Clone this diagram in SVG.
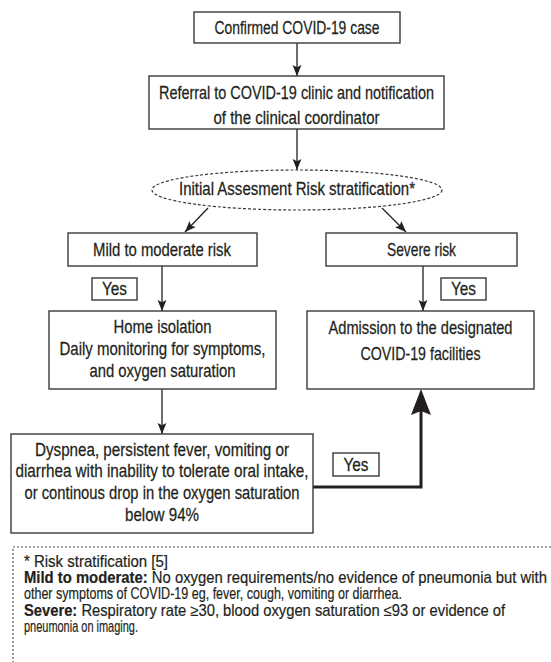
<svg xmlns="http://www.w3.org/2000/svg" width="551" height="662" viewBox="0 0 551 662">
<style>
.box{fill:#fff;stroke:#3a3a3a;stroke-width:1.4}
.t{font-family:"Liberation Sans Narrow","Liberation Sans",Arial,sans-serif;font-size:17.5px;fill:#231f20;stroke:#231f20;stroke-width:0.25;text-anchor:middle}
.f{font-family:"Liberation Sans Narrow","Liberation Sans",Arial,sans-serif;font-size:16px;fill:#231f20;stroke:#231f20;stroke-width:0.2}
.b{font-weight:bold}
.ln{stroke:#231f20;stroke-width:1.3;fill:none}
</style>
<defs>
<marker id="ah" markerUnits="userSpaceOnUse" markerWidth="11" markerHeight="11" viewBox="0 0 11 10" refX="11" refY="5" orient="auto">
<path d="M0,0.6 L11,5 L0,9.4 L2.2,5 Z" fill="#231f20"/>
</marker>
</defs>
<rect width="551" height="662" fill="#fff"/>
<g id="connectors">
<line class="ln" x1="297" y1="43" x2="297" y2="76" marker-end="url(#ah)"/>
<line class="ln" x1="297" y1="129" x2="297" y2="170" marker-end="url(#ah)"/>
<line class="ln" x1="208" y1="208" x2="185" y2="232" marker-end="url(#ah)"/>
<line class="ln" x1="382" y1="208" x2="406" y2="232" marker-end="url(#ah)"/>
<line class="ln" x1="162" y1="266" x2="162" y2="311" marker-end="url(#ah)"/>
<line class="ln" x1="423" y1="266" x2="423" y2="311" marker-end="url(#ah)"/>
<line class="ln" x1="162" y1="389" x2="162" y2="434" marker-end="url(#ah)"/>
<polyline points="313,487 421,487 421,410" fill="none" stroke="#231f20" stroke-width="3"/>
<path d="M421,389 L431,415 L421,411 L411,415 Z" fill="#231f20"/>
</g>
<g id="n1">
<rect class="box" x="194" y="12" width="206" height="31"/>
<g transform="scale(0.8,1)">
<text class="t" x="371.25" y="34" textLength="206.25" lengthAdjust="spacingAndGlyphs">Confirmed COVID-19 case</text>
</g>
</g>
<g id="n2">
<rect class="box" x="149" y="76" width="295" height="53"/>
<g transform="scale(0.8,1)">
<text class="t" x="370.625" y="99" textLength="343.75" lengthAdjust="spacingAndGlyphs">Referral to COVID-19 clinic and notification</text>
<text class="t" x="370.625" y="124" textLength="207.5" lengthAdjust="spacingAndGlyphs">of the clinical coordinator</text>
</g>
</g>
<g id="n3">
<ellipse cx="297" cy="190" rx="145" ry="20" fill="#fff" stroke="#3a3a3a" stroke-width="1.2" stroke-dasharray="3 2"/>
<g transform="scale(0.8,1)">
<text class="t" x="371.25" y="195" textLength="295" lengthAdjust="spacingAndGlyphs">Initial Assesment Risk stratification*</text>
</g>
</g>
<g id="n4">
<rect class="box" x="68" y="233" width="189" height="33"/>
<g transform="scale(0.8,1)">
<text class="t" x="202.5" y="256" textLength="172.5" lengthAdjust="spacingAndGlyphs">Mild to moderate risk</text>
</g>
</g>
<g id="n5">
<rect class="box" x="326" y="233" width="191" height="33"/>
<g transform="scale(0.8,1)">
<text class="t" x="526.875" y="256" textLength="86.25" lengthAdjust="spacingAndGlyphs">Severe risk</text>
</g>
</g>
<g id="yes1">
<rect class="box" x="92" y="278" width="45" height="22"/>
<g transform="scale(0.8,1)">
<text class="t" x="143.125" y="295" textLength="31.25" lengthAdjust="spacingAndGlyphs">Yes</text>
</g>
</g>
<g id="yes2">
<rect class="box" x="441" y="278" width="45" height="22"/>
<g transform="scale(0.8,1)">
<text class="t" x="579.375" y="295" textLength="31.25" lengthAdjust="spacingAndGlyphs">Yes</text>
</g>
</g>
<g id="n6">
<rect class="box" x="49" y="311" width="227" height="78"/>
<g transform="scale(0.8,1)">
<text class="t" x="203.125" y="333" textLength="122.5" lengthAdjust="spacingAndGlyphs">Home isolation</text>
<text class="t" x="203.125" y="355" textLength="257.5" lengthAdjust="spacingAndGlyphs">Daily monitoring for symptoms,</text>
<text class="t" x="203.125" y="377" textLength="182.5" lengthAdjust="spacingAndGlyphs">and oxygen saturation</text>
</g>
</g>
<g id="n7">
<rect class="box" x="307" y="311" width="227" height="78"/>
<g transform="scale(0.8,1)">
<text class="t" x="525.625" y="334" textLength="230" lengthAdjust="spacingAndGlyphs">Admission to the designated</text>
<text class="t" x="525.625" y="360" textLength="150" lengthAdjust="spacingAndGlyphs">COVID-19 facilities</text>
</g>
</g>
<g id="n8">
<rect class="box" x="11" y="434" width="302" height="99"/>
<g transform="scale(0.8,1)">
<text class="t" x="202.5" y="456" textLength="317.5" lengthAdjust="spacingAndGlyphs">Dyspnea, persistent fever, vomiting or</text>
<text class="t" x="202.5" y="477.5" textLength="366.25" lengthAdjust="spacingAndGlyphs">diarrhea with inability to tolerate oral intake,</text>
<text class="t" x="202.5" y="499" textLength="343.75" lengthAdjust="spacingAndGlyphs">or continous drop in the oxygen saturation</text>
<text class="t" x="202.5" y="521" textLength="92.5" lengthAdjust="spacingAndGlyphs">below 94%</text>
</g>
</g>
<g id="yes3">
<rect class="box" x="333" y="453" width="46" height="23"/>
<g transform="scale(0.8,1)">
<text class="t" x="445" y="471" textLength="31.25" lengthAdjust="spacingAndGlyphs">Yes</text>
</g>
</g>
<g id="legend">
<rect x="13" y="547" width="560" height="140" fill="none" stroke="#555" stroke-width="1.2" stroke-dasharray="2 2"/>
<g transform="scale(0.8,1)">
<text class="f" x="30" y="567" textLength="180" lengthAdjust="spacingAndGlyphs">* Risk stratification [5]</text>
<text class="f" x="30" y="583" textLength="653.75" lengthAdjust="spacingAndGlyphs"><tspan class="b">Mild to moderate:</tspan> No oxygen requirements/no evidence of pneumonia but with</text>
<text class="f" x="30" y="599.5" textLength="472.5" lengthAdjust="spacingAndGlyphs">other symptoms of COVID-19 eg, fever, cough, vomiting or diarrhea.</text>
<text class="f" x="30" y="616" textLength="601.25" lengthAdjust="spacingAndGlyphs"><tspan class="b">Severe:</tspan> Respiratory rate ≥30, blood oxygen saturation ≤93 or evidence of</text>
<text class="f" x="30" y="632" textLength="142.5" lengthAdjust="spacingAndGlyphs">pneumonia on imaging.</text>
</g>
</g>
</svg>
